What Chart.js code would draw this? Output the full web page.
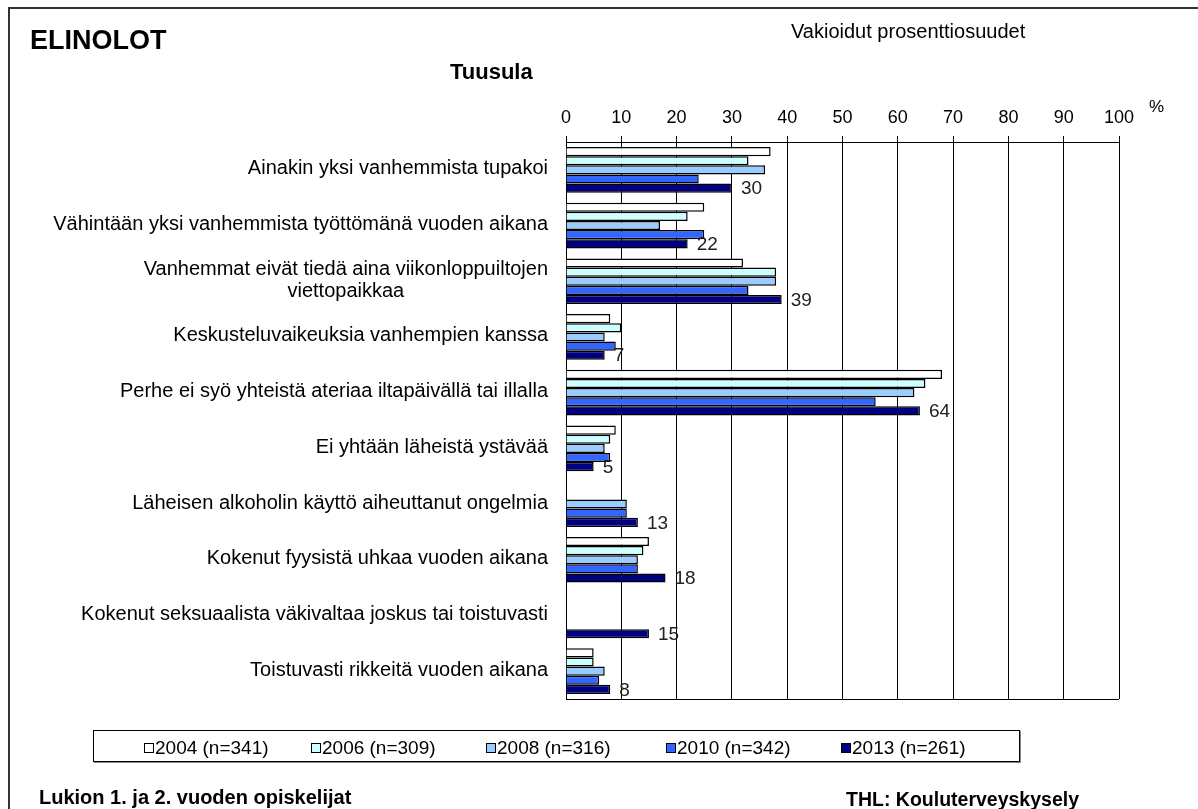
<!DOCTYPE html>
<html>
<head>
<meta charset="utf-8">
<script src="https://cdn.jsdelivr.net/npm/chart.js@4.4.1/dist/chart.umd.min.js"></script>
<style>
    body { margin: 0; background: #fff; font-family: "Liberation Sans", Arial, sans-serif; color: #000; }
    #page { position: relative; width: 1198px; height: 809px; overflow: hidden; }
    #frame { position: absolute; left: 8px; top: 7px; width: 1300px; height: 900px; border-left: 2px solid #333; border-top: 2px solid #333; }
    #chart { position: absolute; left: 0; top: 0; }
    .txt { position: absolute; white-space: nowrap; line-height: 1; }
    #legend { position: absolute; left: 93px; top: 730px; width: 925px; height: 30px; border: 1.5px solid #000; box-shadow: 1px 1px 0 #888; }
    .item { position: absolute; top: 6px; font-size: 19px; display: flex; align-items: center; }
    .sw { width: 8px; height: 8px; border: 1px solid #000; margin-right: 1px; }
</style>
</head>
<body>
<div id="page">
    <div id="frame"></div>
    <canvas id="chart" width="1198" height="809"></canvas>
    <div class="txt" style="left:30px; top:27px; font-size:27px; font-weight:bold;">ELINOLOT</div>
    <div class="txt" style="left:791px; top:21px; font-size:20px;">Vakioidut prosenttiosuudet</div>
    <div class="txt" style="left:450px; top:61px; font-size:22px; font-weight:bold;">Tuusula</div>
    <div class="txt" style="left:1149px; top:98px; font-size:17px;">%</div>
    <div id="legend"></div>
    <div class="txt" style="left:39px; top:787px; font-size:20px; font-weight:bold;">Lukion 1. ja 2. vuoden opiskelijat</div>
    <div class="txt" style="left:846px; top:790px; font-size:19.5px; font-weight:bold;">THL: Kouluterveyskysely</div>
</div>
<script>
// categories (top to bottom)
const categories = [
    'Ainakin yksi vanhemmista tupakoi',
    'Vähintään yksi vanhemmista työttömänä vuoden aikana',
    ['Vanhemmat eivät tiedä aina viikonloppuiltojen', 'viettopaikkaa'],
    'Keskusteluvaikeuksia vanhempien kanssa',
    'Perhe ei syö yhteistä ateriaa iltapäivällä tai illalla',
    'Ei yhtään läheistä ystävää',
    'Läheisen alkoholin käyttö aiheuttanut ongelmia',
    'Kokenut fyysistä uhkaa vuoden aikana',
    'Kokenut seksuaalista väkivaltaa joskus tai toistuvasti',
    'Toistuvasti rikkeitä vuoden aikana'
];

const seriesNames = ['2004 (n=341)', '2006 (n=309)', '2008 (n=316)', '2010 (n=342)', '2013 (n=261)'];
const seriesColors = ['#ffffff', '#ccffff', '#99ccff', '#3366ff', '#000080'];

const values2004 = [37, 25, 32, 8, 68, 9, null, 15, null, 5];
const values2006 = [33, 22, 38, 10, 65, 8, null, 14, null, 5];
const values2008 = [36, 17, 38, 7, 63, 7, 11, 13, null, 7];
const values2010 = [24, 25, 33, 9, 56, 8, 11, 13, null, 6];
const values2013 = [30, 22, 39, 7, 64, 5, 13, 18, 15, 8];

const xTicks = [0, 10, 20, 30, 40, 50, 60, 70, 80, 90, 100];

const allValues = [values2004, values2006, values2008, values2010, values2013];
const FONT = '"Liberation Sans", Arial, sans-serif';

// legend (html)
const legendEl = document.getElementById('legend');
const legendLeft = [50, 217, 392, 572, 747];
seriesNames.forEach((name, i) => {
    const it = document.createElement('div');
    it.className = 'item';
    it.style.left = legendLeft[i] + 'px';
    it.innerHTML = '<span class="sw" style="background:' + seriesColors[i] + '"></span>' + name;
    legendEl.appendChild(it);
});

// category labels + bottom edge + value labels
const extras = {
    id: 'extras',
    afterDraw(chart) {
        const ctx = chart.ctx;
        const area = chart.chartArea;
        const yScale = chart.scales.y;
        ctx.save();
        ctx.strokeStyle = '#000';
        ctx.lineWidth = 1;
        ctx.beginPath();
        ctx.moveTo(area.left, area.bottom + 0.5);
        ctx.lineTo(area.right, area.bottom + 0.5);
        ctx.stroke();

        ctx.font = '20px ' + FONT;
        ctx.fillStyle = '#000';
        ctx.textBaseline = 'middle';
        ctx.textAlign = 'center';
        categories.forEach((lab, i) => {
            const lines = Array.isArray(lab) ? lab : [lab];
            const w = Math.max(...lines.map(l => ctx.measureText(l).width));
            const cx = 548 - w / 2;
            const cy = yScale.getPixelForValue(i) - 1;
            const lh = 22;
            lines.forEach((l, j) => {
                ctx.fillText(l, cx, cy + (j - (lines.length - 1) / 2) * lh);
            });
        });

        // value labels for latest year
        const last = chart.data.datasets.length - 1;
        const meta = chart.getDatasetMeta(last);
        ctx.font = '19px ' + FONT;
        ctx.fillStyle = '#222';
        ctx.textAlign = 'left';
        meta.data.forEach((bar, i) => {
            const v = chart.data.datasets[last].data[i];
            if (v == null) return;
            ctx.fillText(String(v), bar.x + 9, bar.y + 1);
        });
        ctx.restore();
    }
};

new Chart(document.getElementById('chart'), {
    type: 'bar',
    data: {
        labels: categories,
        datasets: seriesNames.map((name, i) => ({
            label: name,
            data: allValues[i],
            backgroundColor: seriesColors[i],
            borderColor: '#000',
            borderWidth: 1.5,
            barPercentage: 1,
            categoryPercentage: 0.82
        }))
    },
    options: {
        indexAxis: 'y',
        responsive: false,
        animation: false,
        devicePixelRatio: 1,
        layout: { padding: { left: 566, right: 79, top: 0, bottom: 110 } },
        plugins: { legend: { display: false }, tooltip: { enabled: false } },
        scales: {
            x: {
                position: 'top',
                min: 0,
                max: 100,
                afterBuildTicks: (scale) => { scale.ticks = xTicks.map(v => ({ value: v })); },
                afterFit: (scale) => { scale.height = 142; },
                ticks: { color: '#000', font: { size: 18, family: FONT }, padding: 7 },
                grid: { color: '#000', lineWidth: 1, tickLength: 6, drawTicks: true },
                border: { display: true, color: '#000', width: 1 }
            },
            y: {
                display: false
            }
        }
    },
    plugins: [extras]
});
</script>
</body>
</html>
